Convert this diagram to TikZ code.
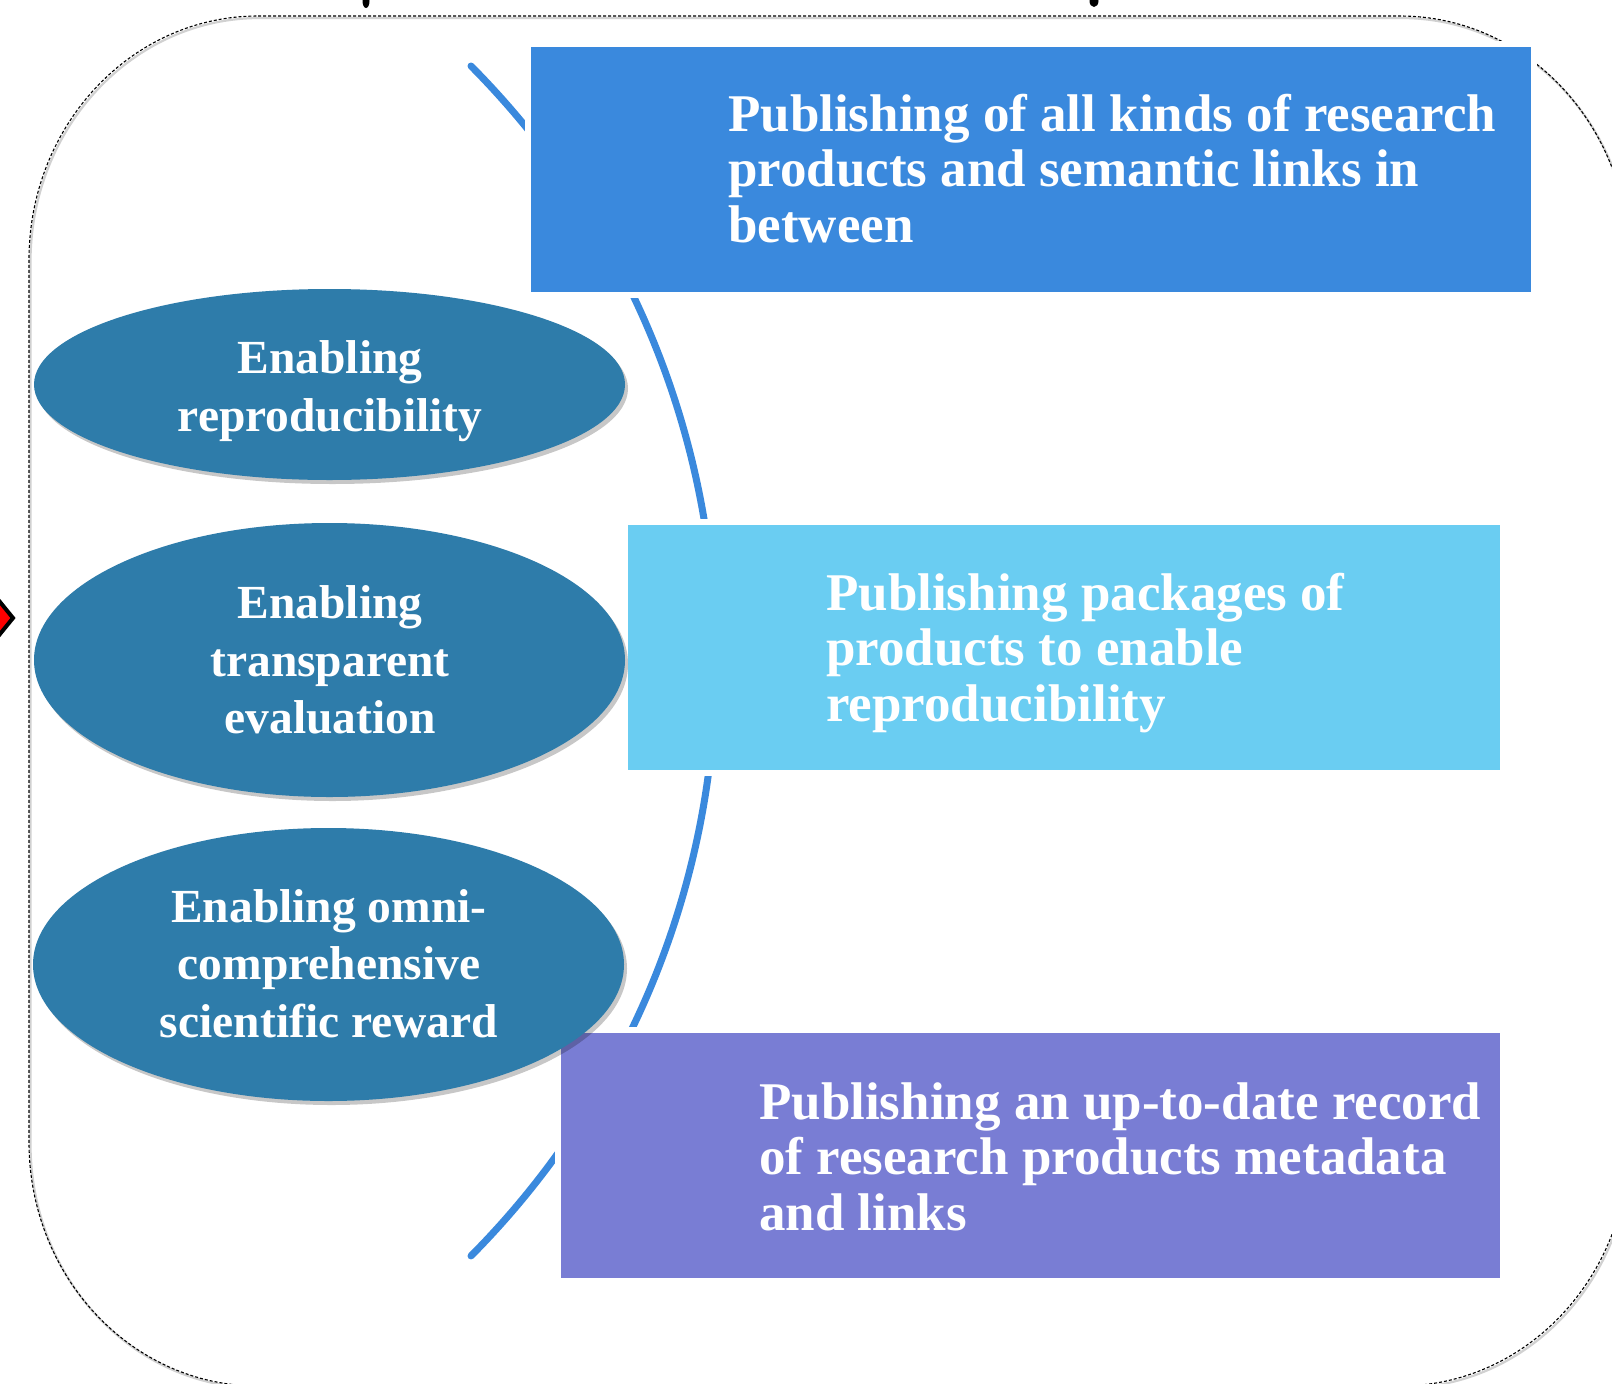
\documentclass[tikz,border=0pt]{standalone}
\usepackage{fontspec}
\setmainfont{Liberation Serif}
\usetikzlibrary{shapes.geometric,shadows}
\definecolor{topblue}{RGB}{58,137,221}
\definecolor{midblue}{RGB}{106,205,242}
\definecolor{lowpurple}{RGB}{121,125,212}
\definecolor{ellblue}{RGB}{46,124,170}
\begin{document}
\begin{tikzpicture}[x=1pt,y=-1pt,
  pubbox/.style={rectangle, inner sep=0pt, anchor=north west, fill=#1, preaction={draw=white, line width=12pt}},
  ovalnode/.style={ellipse, inner sep=0pt, fill=ellblue, minimum width=591pt, drop shadow={shadow xshift=3pt, shadow yshift=-4pt, fill=black, opacity=0.22}},
  boxtext/.style={anchor=base west, inner sep=0pt, text=white, align=left, font=\bfseries\fontsize{53}{55.5}\selectfont},
  ovaltext/.style={anchor=base, inner sep=0pt, text=white, align=center, font=\bfseries\fontsize{47.5}{57.3}\selectfont},
  bracket/.style={draw=topblue, line width=7pt, line cap=round},
  frameline/.style={draw=black, line width=1.1pt, dash pattern=on 3pt off 2pt},
  frameshadow/.style={draw=black!45, line width=2.2pt, opacity=0.4}
]
\useasboundingbox (0,0) rectangle (1612,1384);
\clip (0,0) rectangle (1612,1384);
\fill[white] (0,0) rectangle (1612,1384);
\def\framepath{(258,16) -- (1400,16) arc[start angle=-90, end angle=0, x radius=229, y radius=244] -- (1629,1142) arc[start angle=0, end angle=90, x radius=229, y radius=244] -- (258,1386) arc[start angle=90, end angle=180, x radius=229, y radius=244] -- (29,260) arc[start angle=180, end angle=270, x radius=229, y radius=244] -- cycle}
% frame
\begin{scope}[shift={(1.5,2)}]
\draw[frameshadow] \framepath;
\end{scope}
\draw[frameline] \framepath;
% cut-off fragments at the top edge
\fill[black] (366,1) ellipse[x radius=3.5, y radius=7];
\fill[black] (1094,1) ellipse[x radius=4.5, y radius=6];
% red arrow tip at left edge
\filldraw[fill=red, draw=black, line width=4pt, line join=miter] (13,618) -- (0,602) -- (-13,618) -- (0,634) -- cycle;
% bracket arc
\coordinate (arcS) at (471,66);
\draw[bracket] (arcS) arc[start angle=-44.76, end angle=44.76, radius=845];
% boxes
\node[pubbox=topblue, minimum width=1000pt, minimum height=245pt] (boxA) at (531,47) {};
\node[pubbox=midblue, minimum width=872pt, minimum height=245pt] (boxB) at (628,525) {};
\node[pubbox=lowpurple, minimum width=939pt, minimum height=245pt] (boxC) at (561,1033) {};
\node[boxtext] (tA) at (728,242) {Publishing of all kinds of research\\products and semantic links in\\between};
\node[boxtext] (tB) at (826,721) {Publishing packages of\\products to enable\\reproducibility};
\node[boxtext] (tC) at (759,1230) {Publishing an up-to-date record\\of research products metadata\\and links};
% ellipses
\node[ovalnode, minimum height=191pt] (e1) at (329.5,384.5) {};
\node[ovalnode, minimum height=274pt] (e2) at (329.5,660) {};
\node[ovalnode, minimum height=273pt] (e3) at (328.5,964.5) {};
\node[ovaltext] (t1) at (330,431) {Enabling\\reproducibility};
\node[ovaltext] (t2) at (330,733.5) {Enabling\\transparent\\evaluation};
\node[ovaltext] (t3) at (329,1037) {Enabling omni-\\comprehensive\\scientific reward};
\end{tikzpicture}
\end{document}
